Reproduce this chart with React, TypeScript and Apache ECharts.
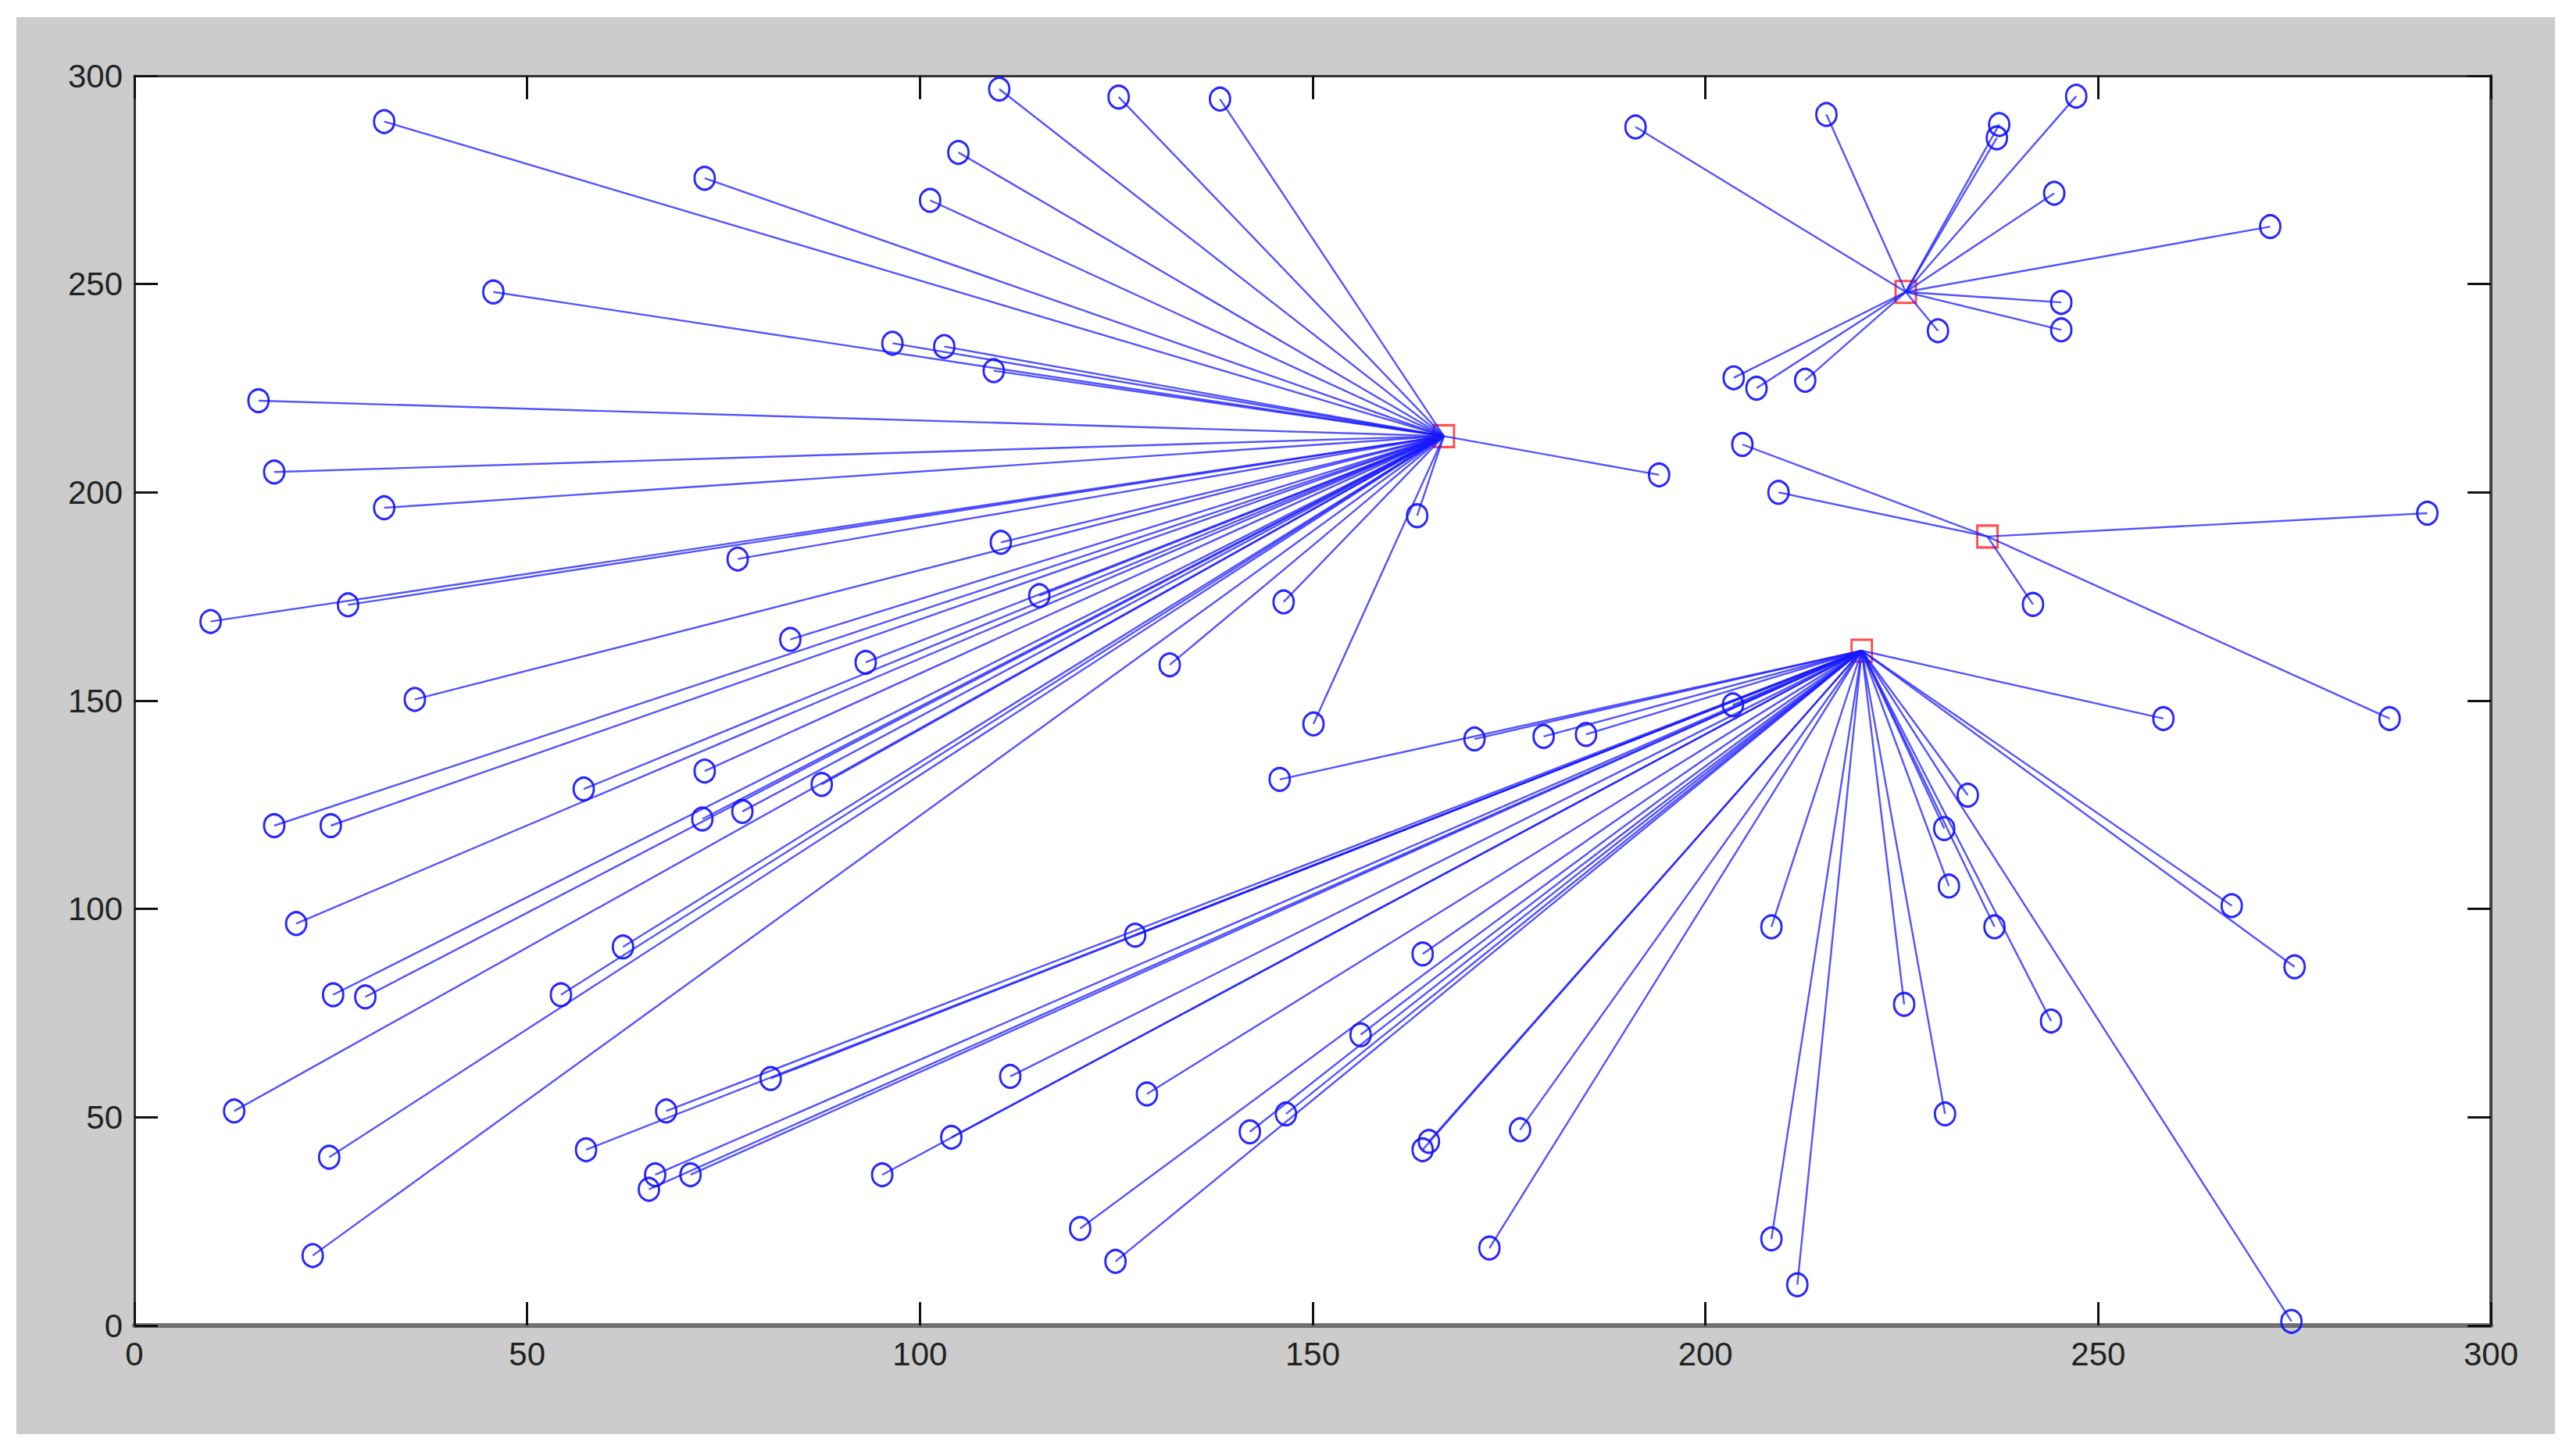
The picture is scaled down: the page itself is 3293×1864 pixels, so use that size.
import React, { useEffect, useRef } from "react";
import * as echarts from "echarts";

// Cluster centres (red squares)
const centerX = [166.7, 225.5, 235.9, 219.9];
const centerY = [213.5, 248.1, 189.4, 162.0];

// Points belonging to each centre
const cluster1: [number, number][] = [
  [31.8, 289.0], [72.6, 275.4], [110.1, 296.8], [125.3, 294.9], [138.2, 294.4],
  [104.9, 281.6], [101.3, 270.1], [45.7, 248.1], [96.5, 235.8], [103.1, 235.0],
  [109.4, 229.2], [15.8, 222.0], [17.8, 204.9], [31.8, 196.3], [194.1, 204.2],
  [163.3, 194.4], [110.3, 188.0], [76.8, 184.0], [9.7, 169.0], [27.2, 173.0],
  [115.2, 175.2], [146.3, 173.7], [83.5, 164.7], [93.1, 159.2], [131.8, 158.6],
  [35.7, 150.3], [150.1, 144.4], [17.8, 120.0], [25.0, 120.0], [57.2, 128.8],
  [72.6, 133.1], [87.5, 129.9], [72.3, 121.6], [77.4, 123.4], [20.6, 96.5],
  [25.3, 79.4], [29.4, 78.9], [62.2, 90.9], [54.3, 79.4], [12.7, 51.5],
  [24.8, 40.4], [22.7, 16.8],
];
const cluster2: [number, number][] = [
  [191.1, 287.7], [215.4, 290.7], [237.4, 288.3], [237.1, 285.1], [247.2, 295.1],
  [244.4, 271.8], [271.9, 263.8], [245.3, 245.6], [245.3, 239.0], [229.6, 238.8],
  [203.6, 227.5], [206.5, 225.0], [212.7, 226.9],
];
const cluster3: [number, number][] = [
  [204.7, 211.5], [209.3, 200.0], [291.9, 195.0], [241.7, 173.1], [287.1, 145.7],
];
const cluster4: [number, number][] = [
  [258.3, 145.7], [233.4, 127.3], [230.4, 119.3], [231.0, 105.5], [208.4, 95.7],
  [236.8, 95.7], [267.0, 100.8], [275.0, 86.1], [225.3, 77.1], [244.0, 73.1],
  [230.5, 50.8], [208.4, 20.8], [211.7, 9.8], [274.6, 1.0], [203.5, 149.0],
  [170.6, 140.8], [179.4, 141.4], [184.8, 141.9], [145.8, 131.1], [127.4, 93.7],
  [81.0, 59.3], [67.7, 51.5], [57.5, 42.2], [66.3, 36.2], [65.5, 32.7],
  [70.8, 36.2], [95.2, 36.2], [104.0, 45.2], [111.5, 59.8], [128.9, 55.6],
  [120.4, 23.3], [124.9, 15.4], [142.0, 46.5], [146.6, 50.8], [156.1, 69.8],
  [164.0, 89.2], [164.8, 44.2], [164.0, 42.2], [176.4, 47.0], [172.5, 18.6],
];
const clusters = [cluster1, cluster2, cluster3, cluster4];

const axisMin = 0;
const axisMax = 300;
const axisStep = 50;

const FONT = '"Liberation Sans Narrow", "Liberation Sans", Arial, sans-serif';

export default function App() {
  const ref = useRef<HTMLDivElement>(null);

  useEffect(() => {
    if (!ref.current) return;
    const chart = echarts.init(ref.current, null, { renderer: "svg" });

    const lineData: any[] = [];
    const pointData: [number, number][] = [];
    clusters.forEach((pts, i) => {
      pts.forEach((p) => {
        lineData.push({ coords: [[centerX[i], centerY[i]], p] });
        pointData.push(p);
      });
    });
    const centers = centerX.map((x, i) => [x, centerY[i]]);

    const tick = {
      show: true,
      inside: true,
      length: 30,
      lineStyle: { color: "#111", width: 3 },
    };
    const label = {
      margin: 15,
      fontSize: 42,
      color: "#222",
      fontFamily: FONT,
    };

    chart.setOption({
      animation: false,
      backgroundColor: "#cccccc",
      grid: {
        left: 151,
        top: 75,
        width: 3016,
        height: 1600,
        show: true,
        backgroundColor: "#ffffff",
        borderWidth: 0,
      },
      xAxis: [
        {
          type: "value",
          min: axisMin,
          max: axisMax,
          interval: axisStep,
          position: "bottom",
          axisLine: { show: true, onZero: false, lineStyle: { color: "#707070", width: 6 } },
          axisTick: tick,
          axisLabel: label,
          splitLine: { show: false },
        },
        {
          type: "value",
          min: axisMin,
          max: axisMax,
          interval: axisStep,
          position: "top",
          axisLine: { show: true, onZero: false, lineStyle: { color: "#333", width: 3 } },
          axisTick: tick,
          axisLabel: { show: false },
          splitLine: { show: false },
        },
      ],
      yAxis: [
        {
          type: "value",
          min: axisMin,
          max: axisMax,
          interval: axisStep,
          position: "left",
          axisLine: { show: true, onZero: false, lineStyle: { color: "#333", width: 3 } },
          axisTick: tick,
          axisLabel: label,
          splitLine: { show: false },
        },
        {
          type: "value",
          min: axisMin,
          max: axisMax,
          interval: axisStep,
          position: "right",
          axisLine: { show: true, onZero: false, lineStyle: { color: "#444", width: 4 } },
          axisTick: tick,
          axisLabel: { show: false },
          splitLine: { show: false },
        },
      ],
      series: [
        {
          type: "scatter",
          xAxisIndex: 0,
          yAxisIndex: 0,
          symbol: "rect",
          symbolSize: [26, 28],
          itemStyle: { color: "rgba(0,0,0,0)", borderColor: "#ff2020", borderWidth: 3 },
          data: centers,
          z: 2,
        },
        {
          type: "lines",
          coordinateSystem: "cartesian2d",
          xAxisIndex: 0,
          yAxisIndex: 0,
          polyline: false,
          lineStyle: { color: "#1a1aff", width: 2.4, opacity: 0.75 },
          data: lineData,
          z: 3,
        },
        {
          type: "scatter",
          xAxisIndex: 0,
          yAxisIndex: 0,
          symbol: "circle",
          symbolSize: [26, 29],
          itemStyle: { color: "rgba(0,0,0,0)", borderColor: "#1010ff", borderWidth: 3, opacity: 0.9 },
          data: pointData,
          z: 4,
        },
      ],
    });

    return () => chart.dispose();
  }, []);

  return (
    <div
      style={{
        position: "fixed",
        left: 0,
        top: 0,
        width: 3293,
        height: 1864,
        background: "#ffffff",
      }}
    >
      <div
        ref={ref}
        style={{ position: "absolute", left: 21, top: 22, width: 3249, height: 1814 }}
      />
    </div>
  );
}
